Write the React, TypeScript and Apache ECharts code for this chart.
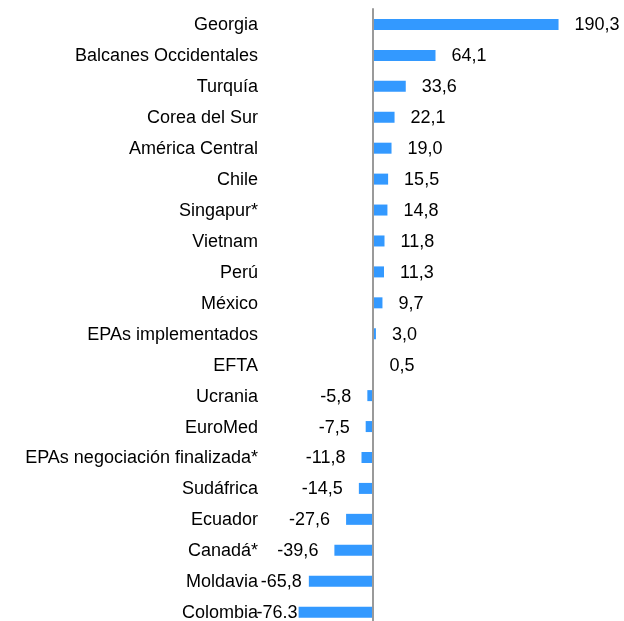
import React, { useEffect, useRef } from "react";
import * as echarts from "echarts";

const categories = [
  "Georgia",
  "Balcanes Occidentales",
  "Turquía",
  "Corea del Sur",
  "América Central",
  "Chile",
  "Singapur*",
  "Vietnam",
  "Perú",
  "México",
  "EPAs implementados",
  "EFTA",
  "Ucrania",
  "EuroMed",
  "EPAs negociación finalizada*",
  "Sudáfrica",
  "Ecuador",
  "Canadá*",
  "Moldavia",
  "Colombia",
];

const values = [
  190.3, 64.1, 33.6, 22.1, 19.0, 15.5, 14.8, 11.8, 11.3, 9.7, 3.0, 0.5, -5.8,
  -7.5, -11.8, -14.5, -27.6, -39.6, -65.8, -76.3,
];

const valueLabels = [
  "190,3", "64,1", "33,6", "22,1", "19,0", "15,5", "14,8", "11,8", "11,3",
  "9,7", "3,0", "0,5", "-5,8", "-7,5", "-11,8", "-14,5", "-27,6", "-39,6",
  "-65,8", "-76.3",
];

const labelDistance: Record<string, number> = { Moldavia: 7, Colombia: 1 };

const FONT = "Liberation Sans";

export default function App() {
  const ref = useRef<HTMLDivElement>(null);
  useEffect(() => {
    if (!ref.current) return;
    const chart = echarts.init(ref.current, null, { renderer: "svg" });
    chart.setOption({
      animation: false,
      grid: {
        left: 295,
        right: 56,
        top: 9,
        height: 618.6,
        containLabel: false,
        outerBoundsMode: "none",
      },
      xAxis: {
        type: "value",
        min: -80,
        max: 200,
        show: false,
        splitLine: { show: false },
      },
      yAxis: {
        type: "category",
        data: categories,
        inverse: true,
        axisLine: { show: true, onZero: true, lineStyle: { color: "#9a9a9a", width: 2 } },
        axisTick: { show: false },
        axisLabel: {
          margin: 37,
          color: "#000",
          fontFamily: FONT,
          fontSize: 18,
        },
        z: 5,
      },
      series: [
        {
          type: "bar",
          barWidth: 11,
          itemStyle: { color: "#3399ff" },
          data: values.map((v, i) => ({
            value: v,
            label: {
              show: true,
              position: v >= 0 ? "right" : "left",
              distance: labelDistance[categories[i]] ?? 16,
              formatter: () => valueLabels[i],
              color: "#000",
              fontFamily: FONT,
              fontSize: 18,
            },
          })),
        },
      ],
    });
    return () => chart.dispose();
  }, []);
  return (
    <div
      ref={ref}
      style={{ position: "fixed", left: 0, top: 0, width: 624, height: 621 }}
    />
  );
}
